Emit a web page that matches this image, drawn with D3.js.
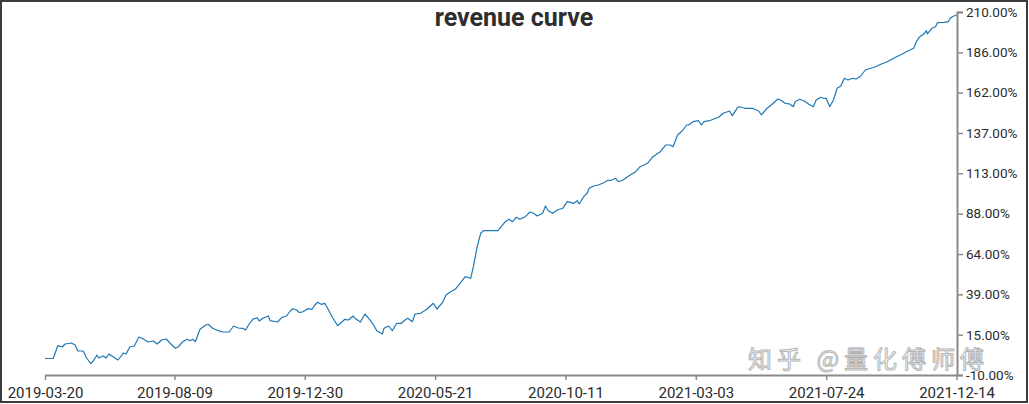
<!DOCTYPE html>
<html>
<head>
<meta charset="utf-8">
<script src="https://cdn.jsdelivr.net/npm/d3@7"></script>
<style>
    body { margin: 0; background: #fff; }
    svg { display: block; font-family: Roboto, "Noto Sans", sans-serif; }
</style>
</head>
<body>
<div id="chart"></div>
<script>
// revenue curve (percent)
const dates = [
    "2019-03-20", "2019-03-29", "2019-04-03", "2019-04-08", "2019-04-11", "2019-04-18", "2019-04-22", "2019-04-25",
    "2019-05-01", "2019-05-04", "2019-05-09", "2019-05-12", "2019-05-16", "2019-05-18", "2019-05-23", "2019-05-26",
    "2019-05-29", "2019-06-03", "2019-06-08", "2019-06-14", "2019-06-17", "2019-06-21", "2019-06-26", "2019-07-01",
    "2019-07-06", "2019-07-11", "2019-07-17", "2019-07-21", "2019-07-26", "2019-07-31", "2019-08-04", "2019-08-10",
    "2019-08-13", "2019-08-18", "2019-08-23", "2019-08-26", "2019-08-29", "2019-09-01", "2019-09-06", "2019-09-12",
    "2019-09-15", "2019-09-20", "2019-09-26", "2019-10-01", "2019-10-08", "2019-10-13", "2019-10-18", "2019-10-23",
    "2019-10-26", "2019-10-30", "2019-11-03", "2019-11-08", "2019-11-10", "2019-11-14", "2019-11-20", "2019-11-22",
    "2019-11-30", "2019-12-05", "2019-12-10", "2019-12-14", "2019-12-17", "2019-12-21", "2019-12-24", "2019-12-28",
    "2020-01-02", "2020-01-07", "2020-01-10", "2020-01-13", "2020-01-17", "2020-01-21", "2020-01-24", "2020-01-29",
    "2020-02-04", "2020-02-09", "2020-02-12", "2020-02-16", "2020-02-21", "2020-02-23", "2020-02-29", "2020-03-05",
    "2020-03-10", "2020-03-14", "2020-03-18", "2020-03-24", "2020-03-26", "2020-03-31", "2020-04-04", "2020-04-09",
    "2020-04-14", "2020-04-18", "2020-04-21", "2020-04-26", "2020-04-29", "2020-05-05", "2020-05-12", "2020-05-19",
    "2020-05-23", "2020-05-29", "2020-06-02", "2020-06-07", "2020-06-12", "2020-06-18", "2020-06-23", "2020-06-29",
    "2020-07-02", "2020-07-06", "2020-07-10", "2020-07-13", "2020-07-29", "2020-08-06", "2020-08-10", "2020-08-14",
    "2020-08-18", "2020-08-22", "2020-08-28", "2020-09-02", "2020-09-06", "2020-09-10", "2020-09-16", "2020-09-19",
    "2020-09-22", "2020-09-27", "2020-10-02", "2020-10-08", "2020-10-13", "2020-10-20", "2020-10-24", "2020-10-26",
    "2020-10-31", "2020-11-04", "2020-11-06", "2020-11-11", "2020-11-16", "2020-11-22", "2020-11-27", "2020-11-29",
    "2020-12-05", "2020-12-08", "2020-12-13", "2020-12-21", "2020-12-27", "2021-01-01", "2021-01-09", "2021-01-15",
    "2021-01-23", "2021-01-29", "2021-02-03", "2021-02-06", "2021-02-11", "2021-02-16", "2021-02-21", "2021-02-23",
    "2021-02-28", "2021-03-06", "2021-03-09", "2021-03-12", "2021-03-18", "2021-03-22", "2021-03-28", "2021-04-02",
    "2021-04-09", "2021-04-12", "2021-04-18", "2021-04-20", "2021-04-26", "2021-05-04", "2021-05-11", "2021-05-14",
    "2021-05-19", "2021-05-26", "2021-06-01", "2021-06-04", "2021-06-09", "2021-06-14", "2021-06-18", "2021-06-20",
    "2021-06-25", "2021-06-30", "2021-07-05", "2021-07-10", "2021-07-13", "2021-07-18", "2021-07-21", "2021-07-24",
    "2021-07-28", "2021-08-01", "2021-08-05", "2021-08-09", "2021-08-13", "2021-08-17", "2021-08-22", "2021-08-26",
    "2021-08-31", "2021-09-05", "2021-09-11", "2021-09-16", "2021-09-22", "2021-09-29", "2021-10-06", "2021-10-11",
    "2021-10-17", "2021-10-22", "2021-10-28", "2021-10-31", "2021-11-03", "2021-11-08", "2021-11-11", "2021-11-12",
    "2021-11-17", "2021-11-21", "2021-11-23", "2021-11-30", "2021-12-05", "2021-12-07", "2021-12-11", "2021-12-14"
];

const revenue = [
    0.00, 0.00, 7.76, 6.97, 8.79, 9.39, 8.18, 4.55,
    4.55, 0.91, -3.03, -1.52, 2.12, 0.30, 1.52, 0.30,
    2.73, 0.91, -0.91, 3.33, 2.73, 6.97, 7.58, 13.03,
    11.82, 10.00, 10.60, 8.79, 11.21, 11.82, 9.39, 6.18,
    6.97, 10.18, 11.64, 10.79, 11.64, 10.18, 17.70, 20.12,
    20.73, 18.30, 16.85, 16.06, 16.06, 19.70, 18.48, 18.30,
    17.27, 20.91, 23.76, 24.73, 22.73, 24.36, 25.76, 22.91,
    22.12, 24.97, 25.76, 28.79, 30.18, 29.39, 27.76, 28.36,
    30.18, 29.82, 32.42, 34.06, 32.85, 33.45, 30.42, 25.33,
    19.88, 22.30, 23.76, 23.33, 25.76, 24.36, 22.12, 26.97,
    23.76, 20.73, 16.85, 14.85, 18.30, 19.70, 16.85, 21.33,
    21.33, 23.33, 24.36, 22.30, 26.97, 27.39, 29.82, 33.45,
    30.00, 33.82, 38.48, 40.48, 41.94, 45.94, 49.58, 48.61,
    55.64, 67.39, 75.88, 77.45, 77.45, 82.91, 84.36, 82.91,
    85.58, 84.36, 85.94, 88.79, 88.00, 86.36, 88.00, 92.42,
    89.58, 88.00, 90.00, 91.03, 95.03, 94.06, 95.64, 93.64,
    98.06, 100.30, 103.15, 104.55, 105.15, 106.55, 108.18, 107.76,
    109.21, 107.15, 108.18, 111.21, 113.21, 116.24, 118.30, 122.30,
    125.33, 129.39, 129.39, 128.36, 135.45, 137.88, 141.52, 141.52,
    143.52, 144.12, 141.52, 143.52, 144.12, 144.97, 146.18, 148.60,
    150.00, 147.15, 152.24, 152.60, 151.64, 151.64, 150.00, 147.58,
    151.03, 154.24, 157.27, 156.67, 154.67, 154.24, 152.60, 155.64,
    157.09, 156.06, 154.06, 152.60, 156.67, 158.30, 157.70, 157.70,
    152.60, 156.67, 163.76, 165.15, 169.82, 168.79, 169.82, 169.39,
    171.21, 174.85, 175.88, 176.85, 178.30, 179.88, 181.94, 183.33,
    184.97, 186.55, 188.00, 192.00, 194.67, 196.67, 198.67, 196.67,
    200.12, 201.09, 203.52, 203.76, 204.12, 206.18, 207.58, 208.20
];

const xTickLabels = ["2019-03-20", "2019-08-09", "2019-12-30", "2020-05-21",
    "2020-10-11", "2021-03-03", "2021-07-24", "2021-12-14"];

const yTickValues = [-10, 14.44, 38.89, 63.33, 87.78, 112.22, 136.67, 161.11, 185.56, 210];
const yTickLabels = ["-10.00%", "15.00%", "39.00%", "64.00%", "88.00%",
    "113.00%", "137.00%", "162.00%", "186.00%", "210.00%"];

const chartTitle = "revenue curve";
const watermark = "知乎 @量化傅师傅";

const width = 1029,
    height = 404,
    margin = {top: 12, right: 72, bottom: 29, left: 45};

const parseDate = d3.timeParse("%Y-%m-%d");
const data = dates.map((d, i) => ({date: parseDate(d), value: revenue[i]}));

const svg = d3.select("#chart").append("svg")
    .attr("width", width)
    .attr("height", height);

const xScale = d3.scaleTime()
    .domain([parseDate(xTickLabels[0]), parseDate(xTickLabels[xTickLabels.length - 1])])
    .range([margin.left, width - margin.right - 0.5]);

const yScale = d3.scaleLinear()
    .domain([yTickValues[0], yTickValues[yTickValues.length - 1]])
    .range([height - margin.bottom, margin.top]);

// outer frame
svg.append("rect")
    .attr("x", 1)
    .attr("y", 1)
    .attr("width", width - 3)
    .attr("height", height - 3)
    .attr("fill", "none")
    .attr("stroke", "#3c3c3c")
    .attr("stroke-width", 2);

const xAxis = d3.axisBottom(xScale)
    .tickValues(xTickLabels.map(parseDate))
    .tickFormat(d3.timeFormat("%Y-%m-%d"))
    .tickSize(5)
    .tickSizeOuter(0);

const gXAxis = svg.append("g")
    .attr("class", "x axis")
    .attr("transform", `translate(0,${height - margin.bottom})`)
    .call(xAxis)
    .attr("font-family", "Roboto, sans-serif")
    .attr("font-size", 15);

gXAxis.selectAll("text")
    .attr("dy", "1.0em")
    .style("fill", "#2b2b2b");

const yAxis = d3.axisRight(yScale)
    .tickValues(yTickValues)
    .tickFormat((d, i) => yTickLabels[i])
    .tickSize(6)
    .tickSizeOuter(6);

const gYAxis = svg.append("g")
    .attr("class", "y axis")
    .attr("transform", `translate(${width - margin.right},0)`)
    .call(yAxis)
    .attr("font-family", "Roboto, sans-serif")
    .attr("font-size", 13.5);

gYAxis.selectAll("text")
    .attr("x", 9)
    .style("fill", "#2b2b2b");

[gXAxis, gYAxis].forEach(g => {
    g.select(".domain").attr("stroke", "#8a8a8a").attr("stroke-width", 2);
    g.selectAll(".tick line").attr("stroke", "#8a8a8a").attr("stroke-width", 1.5);
});

const line = d3.line()
    .x(d => xScale(d.date))
    .y(d => yScale(d.value));

svg.append("path")
    .datum(data)
    .attr("fill", "none")
    .attr("stroke", "#1f77b4")
    .attr("stroke-width", 1.2)
    .attr("stroke-linejoin", "round")
    .attr("d", line);

svg.append("text")
    .attr("x", 514)
    .attr("y", 26)
    .attr("text-anchor", "middle")
    .style("font-family", "Roboto, sans-serif")
    .style("font-size", "25px")
    .style("font-weight", "bold")
    .style("fill", "#2e2e2e")
    .text(chartTitle);

// site watermark over the lower right corner
svg.append("text")
    .attr("x", 748)
    .attr("y", 368)
    .style("font-family", "'Noto Sans CJK SC', sans-serif")
    .style("font-size", "24px")
    .style("letter-spacing", "5px")
    .style("fill", "#ffffff")
    .style("fill-opacity", 0.85)
    .style("stroke", "#b4b4b4")
    .style("stroke-width", 1)
    .text(watermark);
</script>
</body>
</html>
